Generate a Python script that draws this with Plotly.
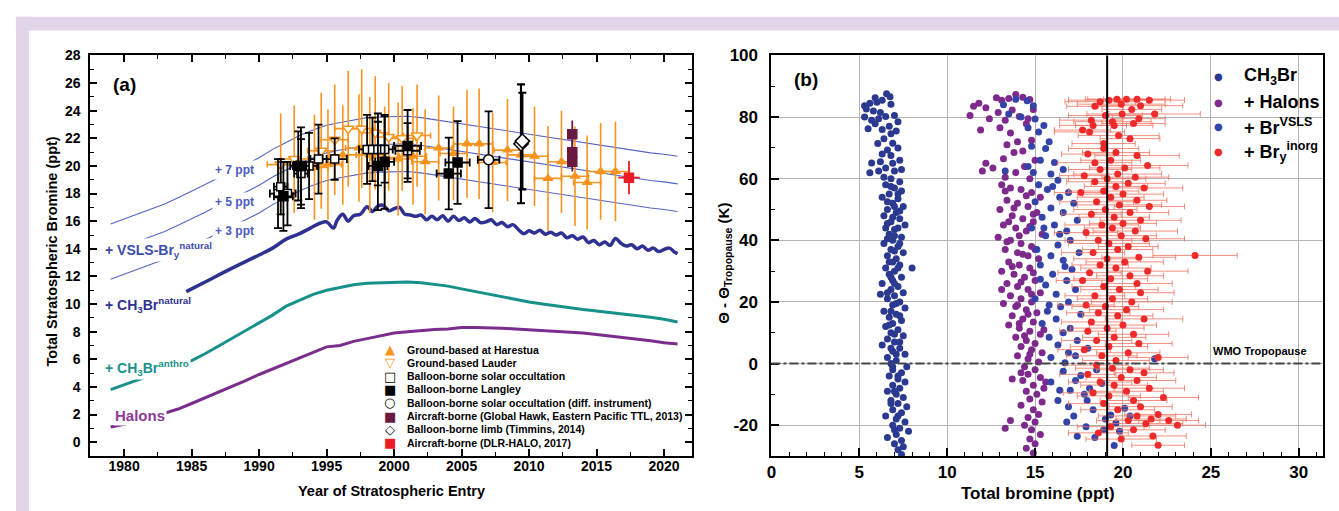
import plotly.graph_objects as go

FONT = "Liberation Sans, Arial, sans-serif"
W, H = 1339, 511

# ---------------- Panel (a): model curves ----------------
years = list(range(1979, 2022))
halons = [1.1, 1.3, 1.5, 1.8, 2.1, 2.4, 2.8, 3.2, 3.6, 4.0, 4.45, 4.9, 5.3, 5.7, 6.1, 6.5, 6.9, 7.0, 7.3, 7.5,
          7.7, 7.9, 8.0, 8.1, 8.15, 8.2, 8.3, 8.3, 8.3, 8.25, 8.2, 8.15, 8.1, 8.05, 8.0, 7.9, 7.8, 7.7, 7.55,
          7.45, 7.35, 7.2, 7.1]
ch3br_anthro = [3.8, 4.15, 4.5, 4.85, 5.2, 5.55, 5.9, 6.4, 6.95, 7.5, 8.05, 8.6, 9.2, 9.85, 10.3, 10.7, 11.0,
                11.2, 11.4, 11.5, 11.55, 11.6, 11.6, 11.55, 11.45, 11.3, 11.1, 10.9, 10.7, 10.5, 10.3, 10.15,
                10.0, 9.85, 9.7, 9.6, 9.5, 9.4, 9.3, 9.2, 9.05, 8.9, 8.7]
vsls_base = [8.8, 9.15, 9.5, 9.85, 10.25, 10.7, 11.15, 11.65, 12.15, 12.6, 13.1, 13.6, 14.2, 14.7, 15.2, 15.6,
             15.95, 16.15, 16.35, 16.5, 16.55, 16.6, 16.6, 16.5, 16.35, 16.2, 16.05, 15.9, 15.75, 15.6, 15.45,
             15.3, 15.15, 15.0, 14.85, 14.65, 14.5, 14.35, 14.2, 14.05, 13.95, 13.85, 13.7]
vsls_offsets = [3, 5, 7]
vsls_labels = ["+ 3 ppt", "+ 5 ppt", "+ 7 ppt"]

natural_years = [1984.6, 1986, 1988, 1990, 1991, 1992, 1993, 1993.8, 1994.5, 1995.0, 1995.5, 1995.8, 1996.2,
                 1996.6, 1997.0, 1997.5, 1998.0, 1998.4, 1998.8, 1999.2, 1999.6, 2000.0, 2000.4, 2000.8,
                 2001.2, 2001.6, 2002.0, 2002.4, 2002.8, 2003.2, 2003.6, 2004.0, 2004.4, 2004.8, 2005.2,
                 2005.6, 2006.0, 2006.4, 2006.8, 2007.2, 2007.6, 2008.0, 2008.4, 2008.8, 2009.2, 2009.6,
                 2010.0, 2010.4, 2010.8, 2011.2, 2011.6, 2012.0, 2012.4, 2012.8, 2013.2, 2013.6, 2014.0,
                 2014.4, 2014.8, 2015.2, 2015.6, 2016.0, 2016.4, 2016.8, 2017.2, 2017.6, 2018.0, 2018.4,
                 2018.8, 2019.2, 2019.6, 2020.0, 2020.4, 2020.8, 2021.0]
ch3br_natural = [10.9, 11.6, 12.6, 13.55, 14.05, 14.7, 15.1, 15.5, 15.85, 15.95, 15.5, 16.1, 16.5, 16.0, 16.4,
                 16.5, 17.05, 16.7, 17.1, 17.15, 16.75, 16.9, 17.0, 16.5, 16.45, 16.35, 16.45, 16.1, 16.35,
                 16.1, 16.4, 16.0, 16.35, 16.05, 16.25, 15.95, 16.2, 15.9, 15.95, 16.1, 15.75, 15.9, 15.6,
                 15.75, 15.4, 15.1, 15.3, 15.15, 15.35, 15.05, 15.2, 15.0, 15.15, 14.8, 14.95, 14.7, 14.85,
                 14.45, 14.6, 14.3, 14.5, 14.25, 14.75, 14.4, 14.2, 14.3, 14.0, 14.2, 13.9, 14.05, 13.8,
                 13.95, 14.05, 13.75, 13.65]

# ---------------- Panel (a): observations ----------------
harestua_x = [1994.1, 1995.1, 1996.2, 1997.4, 1998.2, 1999.3, 2000.3, 2001.4, 2002.3, 2003.3, 2004.4, 2005.4,
              2006.3, 2007.3, 2008.4, 2009.4, 2010.4, 2011.4, 2012.4, 2013.4, 2014.3, 2015.3, 2016.4]
harestua_y = [19.9, 20.1, 20.8, 21.3, 20.8, 20.6, 20.5, 20.7, 20.3, 21.3, 20.9, 21.6, 21.6, 20.25, 21.15, 20.8,
              20.7, 19.1, 20.3, 19.25, 18.8, 19.6, 19.6]
harestua_ey = [3.8, 4.0, 3.6, 3.9, 4.2, 3.7, 4.1, 3.5, 3.8, 3.8, 3.4, 3.9, 4.0, 3.6, 3.7, 3.5, 3.6, 3.8, 3.7,
               3.6, 3.4, 3.5, 3.6]
lauder_x = [1991.6, 1992.6, 1994.6, 1995.6, 1996.6, 1997.6, 1998.6, 1999.6, 2000.6, 2001.7]
lauder_y = [20.1, 20.5, 21.1, 21.9, 22.7, 22.7, 22.4, 22.1, 22.0, 22.2]
lauder_ey = [3.7, 3.9, 4.2, 4.0, 4.2, 4.3, 4.1, 3.9, 3.8, 3.7]
solar_x = [1991.4, 1991.6, 1992.1, 1993.1, 1993.7, 1994.4, 1995.6, 1998.0, 1998.4, 1998.8, 1999.3, 2001.0]
solar_y = [18.0, 18.5, 18.0, 19.45, 20.0, 20.5, 20.5, 21.2, 21.2, 21.2, 21.2, 21.1]
solar_ey = [2.5, 2.0, 2.3, 2.5, 2.4, 2.5, 1.5, 2.5, 2.3, 2.6, 2.4, 2.0]
solar_ex = [0.6, 0.5, 0.6, 0.5, 0.6, 0.6, 0.9, 0.6, 0.6, 0.6, 0.6, 0.9]
langley_x = [1991.8, 1992.9, 1993.1, 1998.8, 1999.3, 2001.0, 2004.05, 2004.7]
langley_y = [17.8, 20.0, 20.0, 20.0, 20.3, 21.45, 19.45, 20.25]
langley_ey = [2.5, 2.5, 2.8, 3.2, 3.4, 2.6, 2.6, 3.0]
langley_ex = [0.7, 0.6, 0.6, 0.7, 0.7, 1.0, 0.9, 0.9]
circle_x, circle_y, circle_ey, circle_ex = [2007.0], [20.45], [3.5], [0.8]
limb_x, limb_y, limb_ey = [2009.4, 2009.5], [21.6, 21.8], [4.3, 3.5]
hawk_x, hawk_y, hawk_ey = [2013.2, 2013.2, 2013.2], [22.3, 21.0, 20.3], [1.0, 0.8, 0.7]
halo_x, halo_y, halo_ey, halo_ex = [2017.4], [19.15], [1.2], [0.8]

legend_a = ["Ground-based at Harestua", "Ground-based Lauder", "Balloon-borne solar occultation",
            "Balloon-borne Langley", "Balloon-borne solar occultation (diff. instrument)",
            "Aircraft-borne (Global Hawk, Eastern Pacific TTL, 2013)", "Balloon-borne limb (Timmins, 2014)",
            "Aircraft-borne (DLR-HALO, 2017)"]

# ---------------- Panel (b): profiles ----------------
theta_ticks = [-20, 0, 20, 40, 60, 80, 100]
theta_ticktext = ["-20", "0", "20", "40", "60", "80", "100"]
ch3br_pts = [(5.3, 83.7), (5.4, 82.6), (5.3, 80.0), (5.9, 86.3), (6.55, 87.6), (6.75, 86.6), (6.8, 84.2),
             (6.2, 81.5), (5.9, 77.8), (5.5, 76.2), (6.8, 74.6), (6.05, 71.4), (6.6, 69.3), (5.7, 65.1),
             (6.2, 65.5), (6.9, 65.0), (5.6, 61.9), (5.6, 84.5), (5.8, 82.0), (6.0, 84.8), (6.3, 85.5),
             (6.1, 79.5), (6.5, 80.2), (7.0, 80.5), (7.2, 78.5), (6.7, 77.0), (6.3, 76.0), (7.1, 75.5),
             (5.7, 79.0), (6.4, 73.0), (6.9, 71.5), (7.2, 70.0), (6.3, 68.0), (6.8, 67.5), (7.3, 66.0),
             (6.5, 63.5), (7.0, 62.5), (6.1, 62.5), (7.4, 63.0), (6.4, 60.5), (6.8, 60.0), (7.3, 59.0),
             (6.5, 58), (7.0, 57), (7.4, 56), (6.7, 55), (6.3, 54), (7.2, 53.5), (6.9, 52), (7.5, 51),
             (6.6, 50), (7.1, 49), (6.4, 48), (7.3, 47), (6.8, 46), (7.6, 45), (6.5, 44), (7.0, 43.5),
             (6.7, 42), (7.4, 41), (6.9, 40), (6.4, 39), (7.2, 38), (6.8, 37), (7.5, 36), (6.6, 35),
             (7.1, 34), (6.9, 33), (7.3, 32), (6.5, 31), (8.0, 31), (7.0, 30), (6.7, 29), (7.4, 28),
             (6.9, 27), (6.3, 26), (7.2, 25), (6.8, 24), (7.5, 23), (6.2, 22.5), (7.0, 22), (6.6, 21),
             (7.3, 20), (6.9, 19), (7.6, 18), (6.4, 17), (7.1, 16), (6.7, 15), (7.4, 14), (6.9, 13),
             (6.5, 12), (7.2, 11), (6.8, 10), (7.5, 9), (6.6, 8), (7.0, 7), (6.3, 6), (7.3, 5), (6.9, 4),
             (7.6, 3), (6.6, 2), (7.1, 1), (6.8, 0), (7.7, -1), (6.9, -2), (7.4, -3), (6.7, -4), (7.2, -5),
             (7.6, -6), (6.9, -7), (7.3, -8), (6.6, -9), (7.1, -10), (7.5, -11), (6.8, -12), (7.2, -13),
             (7.7, -14), (6.9, -15), (7.4, -16), (6.5, -17), (7.1, -18), (7.6, -19), (6.9, -20), (7.3, -21),
             (7.8, -22), (7.1, -23), (6.6, -24), (7.4, -25), (7.0, -26), (7.5, -27), (7.2, -28),
             (7.4, -29.5), (6.8, 57.5), (7.2, 55), (6.6, 52.5), (7.0, 51), (7.3, 49.5), (6.9, 47.5),
             (6.6, 45.5), (7.2, 44), (7.0, 41.5), (6.6, 40.5), (7.3, 39), (7.0, 36.5), (6.7, 33), (7.2, 31),
             (6.8, 28), (7.0, 26), (6.6, 23), (7.1, 19.5), (6.8, 17), (7.3, 15.5), (6.7, 12.5), (7.0, 9.5),
             (7.3, 7), (6.8, 5), (7.1, 3), (6.9, -1), (7.2, -4), (7.0, -9), (6.8, -13), (7.2, -17),
             (7.0, -21.5)]
halons_pts = [(11.3, 80.5), (11.5, 83.5), (11.8, 84.5), (12.2, 83.0), (12.4, 79.5), (11.9, 75.8), (12.8, 86.3),
              (13.1, 85.5), (13.5, 86.0), (13.9, 87.3), (14.3, 86.4), (14.7, 85.7), (12.9, 81.5), (13.3, 79.0),
              (13.7, 82.3), (14.1, 80.2), (14.5, 77.8), (13.0, 76.5), (13.6, 74.8), (14.0, 72.0),
              (14.9, 82.5), (14.6, 79.5), (13.4, 71.0), (12.2, 65.0), (12.6, 63.5), (12.0, 62.5),
              (13.2, 66.5), (13.8, 68.5), (14.3, 69.0), (14.8, 72.5), (15.0, 66.0), (14.4, 64.0),
              (13.9, 62.0), (13.3, 60.5), (14.7, 60.0), (13.1, 58), (13.6, 57), (14.2, 56.5), (14.8, 55.5),
              (15.3, 54), (13.4, 53), (14.0, 52), (14.6, 51), (13.0, 50), (15.1, 49), (13.7, 48), (14.3, 47),
              (14.9, 46), (13.2, 45), (13.9, 44), (14.5, 43), (15.4, 42), (12.9, 41), (13.6, 40), (14.2, 39),
              (14.8, 38), (13.3, 37), (14.0, 36), (14.6, 35), (15.2, 34), (13.5, 33), (14.1, 32), (14.7, 31),
              (13.1, 30), (13.8, 29), (14.4, 28), (15.0, 27), (13.4, 26), (14.0, 25), (14.6, 24), (15.3, 23),
              (13.6, 22), (14.2, 21), (14.8, 20), (13.2, 19.5), (13.9, 18.5), (14.5, 17.5), (15.1, 16.5),
              (13.7, 15.5), (14.3, 14.5), (14.9, 13.5), (13.5, 12.5), (14.1, 11.5), (14.7, 10.5),
              (15.3, 9.5), (13.9, 8.5), (14.5, 7.5), (15.0, 6.5), (14.2, 5.5), (14.8, 4.5), (15.4, 3.5),
              (14.0, 2.5), (14.6, 1.5), (15.2, 0.5), (13.3, 56), (14.5, 54.5), (13.8, 50.5), (14.9, 48.5),
              (13.5, 46), (14.7, 44.5), (14.1, 41.5), (13.4, 39.5), (15.0, 37), (14.3, 35.5), (13.7, 31.5),
              (14.9, 29.5), (14.2, 26.5), (13.1, 24), (14.8, 22.5), (14.0, 19), (14.6, 16), (14.1, 13),
              (15.5, 11), (14.4, 9), (14.7, 3), (14.4, -1), (15.0, -2), (14.6, -3.5), (15.3, -4.5),
              (14.3, -5.5), (14.9, -7), (15.5, -8), (14.5, -9), (15.1, -10), (14.7, -11.5), (15.4, -12.5),
              (14.2, -13.5), (14.9, -15), (15.2, -16.5), (14.6, -17.5), (15.0, -19), (14.4, -20),
              (14.8, -21.5), (15.3, -23), (14.7, -24.5), (15.0, -26), (14.5, -27.5), (14.9, -29),
              (13.6, -18.5), (13.3, -21), (14.2, -3), (15.6, -6), (13.7, -5)]
vsls_pts = [(13.9, 85.8), (14.55, 85.3), (14.9, 83.7), (13.2, 84.0), (13.5, 81.0), (14.2, 80.0), (15.0, 79.4),
            (15.5, 77.3), (15.2, 75.2), (14.6, 76.5), (15.8, 72.0), (15.6, 69.8), (14.8, 70.5), (16.1, 65.3),
            (16.6, 63.0), (15.3, 66.0), (14.6, 64.0), (15.9, 61.5), (16.3, 59.5), (14.9, 62.0), (13.3, 62.5),
            (15.2, 58), (16.9, 55.5), (15.7, 56.5), (16.4, 54), (15.0, 52.5), (17.2, 52), (15.9, 50.5),
            (16.6, 49), (15.4, 47.5), (17.4, 46.5), (16.1, 45), (14.8, 44), (16.8, 43), (15.6, 41.5),
            (17.0, 40), (16.3, 38.5), (15.1, 37), (17.5, 36), (15.9, 35), (16.6, 33.5), (15.3, 32),
            (17.1, 30.5), (16.0, 29), (15.3, 27.4), (16.8, 27), (15.6, 25.5), (17.3, 24), (16.2, 22.5),
            (15.0, 21), (16.9, 20), (16.45, 18.4), (15.7, 17), (17.6, 16), (16.2, 14.5), (15.4, 13),
            (17.0, 11.5), (16.6, 10), (15.8, 8.5), (17.4, 7.5), (16.3, 6), (18.0, 5), (16.9, 3.5), (15.9, 2),
            (16.7, 0.3), (21.8, 1.6), (17.6, -3.9), (17.0, -8.7), (16.4, -8.7), (17.96, -12), (18.5, -2),
            (17.3, -5.5), (18.8, -6.5), (17.8, -10), (16.9, -14), (18.3, -15), (19.3, -16.7), (19.6, -19.3),
            (20.1, -14.5), (19.0, -18), (20.4, -17), (17.4, -23.6), (18.4, -24), (19.5, -26.6), (16.8, -19),
            (17.9, -20.5), (18.9, -21.5), (19.8, -22), (16.3, -12), (15.9, -6), (16.6, -2.5), (18.1, -8),
            (17.2, -17), (16.0, 57.5), (15.5, 44), (16.4, 42), (16.7, 31.5), (15.8, 19), (17.3, 2.5)]
bry_pts = [(18.7, 85.0, 2.0), (19.2, 85.5, 2.3), (19.66, 85.8, 1.8), (20.2, 85.8, 2.2), (20.8, 85.8, 1.9),
           (21.5, 85.5, 2.0), (21.0, 83.7, 2.4), (19.9, 84.2, 2.5), (18.4, 83.5, 1.6), (20.5, 82.5, 1.7),
           (19.0, 80.5, 2.1), (19.95, 81.0, 2.0), (21.8, 81.0, 2.6), (18.2, 79.0, 1.8), (20.9, 79.5, 1.5),
           (19.4, 78.5, 2.2), (18.3, 77.3, 1.9), (17.7, 75.8, 1.6), (18.1, 75.2, 2.0), (19.5, 77.3, 2.2),
           (20.6, 77.9, 1.8), (19.75, 74.0, 2.3), (20.4, 73.0, 1.7), (18.9, 71.4, 1.8), (18.9, 69.8, 2.0),
           (19.6, 68.5, 1.9), (20.8, 67.5, 2.4), (18.0, 68.0, 1.5), (18.4, 65.2, 2.1), (19.3, 66.0, 1.7),
           (21.4, 64.3, 2.3), (20.1, 63.5, 2.0), (18.7, 63.0, 1.8), (19.7, 61.5, 2.5), (17.8, 61.0, 1.4),
           (20.7, 60.5, 1.9), (19.1, 60.0, 2.2), (18.4, 59.0, 1.6), (20.3, 58.5, 2.1), (19.6, 57.5, 1.8),
           (21.2, 57.0, 2.2), (18.9, 56.0, 2.0), (17.6, 55.5, 1.5), (20.0, 55.0, 2.3), (19.3, 54.0, 1.9),
           (20.8, 53.0, 1.7), (18.5, 52.5, 2.1), (19.8, 51.5, 2.4), (21.5, 51.0, 2.0), (19.0, 50.0, 1.8),
           (20.4, 49.0, 2.2), (18.2, 48.5, 1.7), (19.5, 47.5, 2.0), (21.0, 46.5, 2.3), (20.0, 45.5, 1.9),
           (18.8, 45.0, 2.1), (19.4, 44.0, 1.6), (20.7, 43.0, 2.4), (17.9, 42.5, 1.8), (19.9, 41.5, 2.0),
           (21.3, 40.5, 2.2), (18.6, 40.0, 1.9), (19.2, 39.0, 2.3), (20.3, 38.0, 1.7), (19.7, 37.0, 2.0),
           (18.3, 36.0, 1.8), (24.1, 35.1, 2.4), (20.9, 34.5, 2.1), (19.1, 34.0, 1.9), (20.1, 33.0, 2.2),
           (18.7, 32.0, 1.6), (19.6, 31.0, 2.0), (21.4, 30.0, 2.3), (18.1, 29.5, 1.8), (20.4, 28.5, 1.9),
           (19.3, 27.5, 2.1), (17.7, 27.0, 1.5), (20.8, 26.0, 2.0), (18.9, 25.0, 1.8), (19.8, 24.0, 2.2),
           (21.0, 23.0, 1.9), (18.4, 22.0, 1.7), (19.4, 21.0, 2.0), (20.5, 20.0, 2.3), (17.9, 19.0, 1.6),
           (19.0, 18.5, 1.9), (20.2, 17.5, 2.1), (18.6, 16.5, 1.8), (19.7, 15.5, 2.0), (21.2, 14.5, 2.2),
           (18.2, 13.5, 1.7), (20.0, 12.5, 1.9), (19.1, 11.5, 2.1), (18.0, 10.5, 1.6), (20.6, 9.5, 2.0),
           (19.5, 8.5, 1.8), (18.5, 7.5, 2.0), (20.9, 6.5, 1.9), (19.2, 5.5, 2.2), (17.8, 4.5, 1.5),
           (20.3, 3.5, 1.8), (22.0, 2.0, 1.7), (18.8, 2.5, 2.0), (19.6, 1.0, 1.9), (18.5, -0.5, 1.8),
           (19.4, -1.5, 2.1), (20.4, -2.0, 1.9), (21.2, -3.0, 1.7), (18.0, -3.5, 1.6), (19.9, -4.5, 2.0),
           (20.8, -5.5, 2.2), (18.7, -6.0, 1.8), (19.5, -7.0, 1.9), (21.5, -8.0, 2.0), (20.2, -9.0, 2.1),
           (18.3, -9.5, 1.7), (19.2, -10.5, 1.8), (22.3, -11.0, 2.0), (20.6, -12.0, 1.9), (18.9, -13.0, 2.0),
           (21.0, -14.0, 1.8), (19.7, -15.0, 2.1), (22.0, -16.5, 1.9), (20.8, -17.0, 2.2), (21.6, -18.0, 2.0),
           (22.6, -18.5, 1.7), (20.3, -18.5, 1.8), (21.3, -19.5, 2.1), (23.1, -20.0, 1.6), (19.3, -20.5, 1.9),
           (20.6, -21.5, 1.8), (18.6, -22.5, 1.7), (21.7, -23.5, 1.9), (19.9, -24.5, 2.0), (22.0, -26.5, 1.5)]
total_bromine_ref = 19.1
wmo_tropopause = 0

# ---------------- colours ----------------
PURPLE = "#7b2d8e"
TEAL = "#17918a"
NAVY = "#2e3192"
VSLS_BLUE = "#5264c6"
ORANGE = "#f7931e"
MAROON = "#6a1a40"
RED = "#ed1c24"
B_CH3BR = "#2b3990"
B_HALON = "#7e2a8c"
B_VSLS = "#3343a8"
B_RED = "#ee2a2a"
LAVENDER = "#e3d5e8"

fig = go.Figure()


def line(x, y, color, width, shape="linear"):
    fig.add_trace(go.Scatter(x=x, y=y, mode="lines", line=dict(color=color, width=width, shape=shape),
                             xaxis="x", yaxis="y", hoverinfo="skip"))


for off in vsls_offsets:
    line(years, [b + off for b in vsls_base], VSLS_BLUE, 1.1)
line(years, halons, PURPLE, 3)
line(years, ch3br_anthro, TEAL, 3)
line(natural_years, ch3br_natural, NAVY, 3.5, "spline")


def pts(x, y, symbol, size, color, line_color, ey, ex=None, ecol="black", eth=1.8, ew=4, exw=None, lw=1.5):
    kw = {}
    kw["error_y"] = dict(type="data", array=ey, color=ecol, thickness=eth, width=ew)
    if ex is not None:
        kw["error_x"] = dict(type="data", array=ex, color=ecol, thickness=eth, width=ew if exw is None else exw)
    fig.add_trace(go.Scatter(x=x, y=y, mode="markers", xaxis="x", yaxis="y",
                             marker=dict(symbol=symbol, size=size, color=color,
                                         line=dict(color=line_color, width=lw)), **kw))


pts(harestua_x, harestua_y, "triangle-up", 10, ORANGE, ORANGE, harestua_ey, [1.0] * len(harestua_x),
    ecol=ORANGE, eth=1.6, ew=0, exw=3, lw=0)
pts(lauder_x, lauder_y, "triangle-down", 10, "white", ORANGE, lauder_ey, [1.0] * len(lauder_x),
    ecol=ORANGE, eth=1.6, ew=0, exw=3)
pts(solar_x, solar_y, "square", 8, "white", "black", solar_ey, solar_ex)
pts(langley_x, langley_y, "square", 9, "black", "black", langley_ey, langley_ex)
pts(circle_x, circle_y, "circle", 10, "white", "black", circle_ey, circle_ex)
pts(limb_x, limb_y, "diamond", 11, "white", "black", limb_ey, eth=2.2)
pts(hawk_x, hawk_y, "square", 9, MAROON, MAROON, hawk_ey, ecol=MAROON, ew=0)
pts(halo_x, halo_y, "square", 9, RED, RED, halo_ey, halo_ex, ecol=RED, ew=0)

# ---------------- Panel (b) ----------------
for data, col in ((ch3br_pts, B_CH3BR), (halons_pts, B_HALON), (vsls_pts, B_VSLS)):
    fig.add_trace(go.Scatter(x=[p[0] for p in data], y=[p[1] for p in data], mode="markers",
                             xaxis="x2", yaxis="y2", marker=dict(size=7, color=col)))
fig.add_trace(go.Scatter(x=[p[0] for p in bry_pts], y=[p[1] for p in bry_pts], mode="markers",
                         xaxis="x2", yaxis="y2", marker=dict(size=7, color=B_RED),
                         error_x=dict(type="data", array=[p[2] for p in bry_pts],
                                      color="rgba(240,115,95,0.8)", thickness=1, width=3)))

# ---------------- axes ----------------
tf14 = dict(size=14, weight="bold", color="black", family=FONT)
tf17 = dict(size=17, weight="bold", color="black", family=FONT)
ya_dom = [1 - 455 / H, 1 - 47.3 / H]
fig.update_layout(
    width=W, height=H, margin=dict(l=0, r=0, t=0, b=0), showlegend=False,
    paper_bgcolor="white", plot_bgcolor="white", font=dict(family=FONT, color="black"),
    xaxis=dict(domain=[85.7 / W, 690 / W], range=[1977.5, 2022.1], tick0=1980, dtick=5, anchor="y",
               showline=True, linecolor="black", linewidth=2, mirror="allticks", ticks="inside",
               ticklen=7, tickwidth=1.5, tickcolor="black", showgrid=False, zeroline=False,
               tickfont=tf14, ticklabelstandoff=-4,
               minor=dict(ticks="inside", ticklen=4, tickwidth=1.2, tickcolor="black", dtick=2.5,
                          tick0=1980, showgrid=False)),
    yaxis=dict(domain=ya_dom, range=[-1, 28], tick0=0, dtick=2, anchor="x",
               showline=True, linecolor="black", linewidth=2, mirror="allticks", ticks="inside",
               ticklen=7, tickwidth=1.5, tickcolor="black", showgrid=False, zeroline=False,
               tickfont=tf14, ticklabelstandoff=5,
               minor=dict(ticks="inside", ticklen=4, tickwidth=1.2, tickcolor="black", dtick=1,
                          tick0=0, showgrid=False)),
    xaxis2=dict(domain=[769.3 / W, 1323.3 / W], range=[0, 31.4], tick0=0, dtick=5, anchor="y2",
                showline=True, linecolor="black", linewidth=2, mirror=True, ticks="inside",
                ticklen=8, tickwidth=1.5, tickcolor="black", showgrid=True, gridcolor="#b4b4b4",
                gridwidth=1, zeroline=False, tickfont=tf17, ticklabelstandoff=0,
                minor=dict(ticks="inside", ticklen=4, tickwidth=1.2, tickcolor="black", dtick=1,
                           tick0=0, showgrid=False)),
    yaxis2=dict(domain=ya_dom, range=[-30, 100], tickmode="array", tickvals=theta_ticks,
                ticktext=theta_ticktext, anchor="x2",
                showline=True, linecolor="black", linewidth=2, mirror=True, ticks="inside",
                ticklen=8, tickwidth=1.5, tickcolor="black", showgrid=True, gridcolor="#b4b4b4",
                gridwidth=1, zeroline=False, tickfont=tf17, ticklabelstandoff=8,
                minor=dict(ticks="inside", ticklen=4, tickwidth=1.2, tickcolor="black", dtick=10,
                           tick0=0, showgrid=False)),
)

# ---------------- shapes ----------------
shapes = [
    dict(type="rect", xref="paper", yref="paper", x0=11 / W, x1=24 / W, y0=0, y1=1 - 8 / H,
         fillcolor=LAVENDER, line=dict(width=0), layer="below"),
    dict(type="rect", xref="paper", yref="paper", x0=11 / W, x1=1, y0=1 - 22 / H, y1=1 - 8 / H,
         fillcolor=LAVENDER, line=dict(width=0), layer="below"),
    dict(type="line", xref="x2", yref="y2 domain", x0=total_bromine_ref, x1=total_bromine_ref, y0=0, y1=1,
         line=dict(color="black", width=2), layer="above"),
    dict(type="line", xref="x2 domain", yref="y2", x0=0, x1=1, y0=wmo_tropopause, y1=wmo_tropopause,
         line=dict(color="#444444", width=2, dash="dashdot"), layer="above"),
]
fig.update_layout(shapes=shapes)

# ---------------- annotations ----------------
ann = []


def A(text, x, y, size, color="black", xref="x", yref="y", xanchor="center", bg=None, angle=0, fam=FONT,
      weight="bold", pad=1):
    d = dict(text=text, x=x, y=y, xref=xref, yref=yref, xanchor=xanchor, yanchor="middle", showarrow=False,
             font=dict(size=size, color=color, family=fam, weight=weight), textangle=angle)
    if bg:
        d["bgcolor"] = bg
        d["borderpad"] = pad
    ann.append(d)


A("(a)", 1979.0, 25.9, 19, xanchor="left")
A("(b)", 1.15, 92.2, 19, xref="x2", yref="y2", xanchor="left")
for lab, off, yy in zip(vsls_labels, vsls_offsets, [15.3, 17.4, 19.7]):
    A(lab, 1988.2, yy, 12, color="#4a5bc0", bg="white", pad=2)
A("+ VSLS-Br<sub>y</sub><sup>natural</sup>", 1978.45, 13.9, 14, color="#3b4cae", xanchor="left", bg="white")
A("+ CH<sub>3</sub>Br<sup>natural</sup>", 1978.45, 9.9, 14, color=NAVY, xanchor="left", bg="white")
A("+ CH<sub>3</sub>Br<sup>anthro</sup>", 1978.45, 5.4, 14, color=TEAL, xanchor="left", bg="white")
A("Halons", 1979.2, 1.95, 15, color="#8b3a9b", xanchor="left", bg="white")

# legend (a)
leg_syms = [("▲", ORANGE), ("▽", ORANGE), ("□", "black"), ("■", "black"), ("○", "black"), ("■", MAROON),
            ("◇", "black"), ("■", RED)]
leg_rows = [346.7, 360, 374, 387.3, 400.7, 414.3, 427.7, 441.7]
for (s, c), lab, Y in zip(leg_syms, legend_a, leg_rows):
    A(s, 386 / W, 1 - Y / H, 13, color=c, xref="paper", yref="paper", fam="DejaVu Sans", weight="normal")
    A(lab, 401 / W, 1 - Y / H, 10.5, xref="paper", yref="paper", xanchor="left")

# legend (b)
leg_b = [("CH<sub>3</sub>Br", B_CH3BR), ("+ Halons", B_HALON), ("+ Br<sup>VSLS</sup>", B_VSLS),
         ("+ Br<sub>y</sub><sup>inorg</sup>", B_RED)]
for (lab, c), Y in zip(leg_b, [68.3, 95, 120, 145]):
    A("●", 1218 / W, 1 - Y / H, 10, color=c, xref="paper", yref="paper", fam="DejaVu Sans", weight="normal")
    A(lab, 1242 / W, 1 - Y / H, 18, xref="paper", yref="paper", xanchor="left")

A("WMO Tropopause", 27.8, 4.0, 11, xref="x2", yref="y2")

# axis titles
A("Total Stratospheric Bromine (ppt)", 47 / W, 1 - 247 / H, 14.5, xref="paper", yref="paper", angle=-90)
A("Year of Stratospheric Entry", 388 / W, 1 - 491 / H, 14.5, xref="paper", yref="paper")
A("Total bromine (ppt)", 1037 / W, 1 - 493 / H, 17, xref="paper", yref="paper")
A("Θ - Θ<sub>Tropopause</sub> (K)", 722 / W, 1 - 259 / H, 15, xref="paper", yref="paper", angle=-90)

fig.update_layout(annotations=ann)
fig.write_html("out.html")
